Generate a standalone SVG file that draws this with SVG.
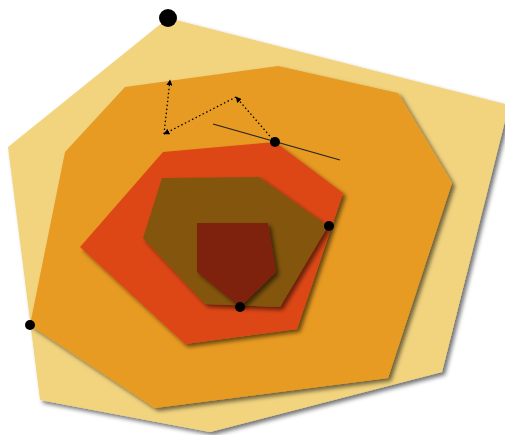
<svg xmlns="http://www.w3.org/2000/svg" width="505" height="435" viewBox="0 0 505 435">
<defs>
<filter id="sh" x="-10%" y="-10%" width="125%" height="125%">
<feDropShadow dx="3" dy="3" stdDeviation="2" flood-color="#000" flood-opacity="0.55"/>
</filter>
<marker id="ah" viewBox="0 0 10 10" refX="9" refY="5" markerWidth="6" markerHeight="6" orient="auto" markerUnits="userSpaceOnUse">
<path d="M0,0 L10,5 L0,10 z" fill="#000"/>
</marker>
<style>
.p{filter:url(#sh);stroke:none}
.dot{fill:#000}
.dash{fill:none;stroke:#000;stroke-width:1.3;stroke-dasharray:1.5 2.5;marker-end:url(#ah)}
</style>
</defs>
<rect width="505" height="435" fill="#fff"/>
<g id="outer"><polygon class="p" fill="#F2D47F" points="168,18 509,105 442,372 210,432 40,400 8,147"/></g>
<g id="orange"><polygon class="p" fill="#E89B20" points="125,87 278,66 398,93 452,183 388,378 155,408 30,325 65,152"/></g>
<g id="red"><polygon class="p" fill="#DD4718" points="163,152 275,142 343,193 297,329 185,344 80,247"/></g>
<g id="brown"><polygon class="p" fill="#84560F" points="162,178 259,177 328,226 280,307 205,304 143,238"/></g>
<g id="core"><polygon class="p" fill="#7F230B" points="197,223 268,223 276,272 240,307 197,272"/></g>
<g id="connectors">
<line x1="213" y1="124" x2="340" y2="160" stroke="#222" stroke-width="1.2"/>
<line class="dash" x1="275" y1="142" x2="236" y2="97"/>
<line class="dash" x1="236" y1="97" x2="164" y2="134"/>
<line class="dash" x1="164" y1="134" x2="170" y2="80"/>
</g>
<g id="points">
<circle class="dot" cx="168" cy="18" r="9"/>
<circle class="dot" cx="275" cy="142" r="5"/>
<circle class="dot" cx="329" cy="226" r="5"/>
<circle class="dot" cx="240" cy="307" r="5"/>
<circle class="dot" cx="30" cy="325" r="5"/>
</g>
</svg>
